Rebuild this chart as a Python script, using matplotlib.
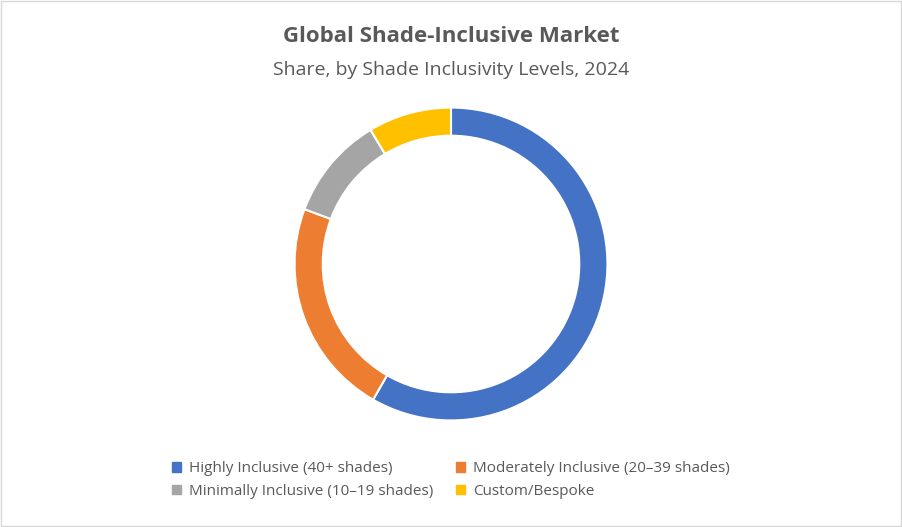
import matplotlib
matplotlib.use("Agg")
import matplotlib.pyplot as plt
from matplotlib.patches import Rectangle

categories = ["Highly Inclusive (40+ shades)", "Moderately Inclusive (20–39 shades)",
              "Minimally Inclusive (10–19 shades)", "Custom/Bespoke"]
values = [58.3, 22.4, 10.7, 8.6]
colors = ["#4472C4", "#ED7D31", "#A5A5A5", "#FFC000"]

plt.rcParams["font.family"] = "Open Sans"
fig = plt.figure(figsize=(9.02, 5.27), dpi=100)
fig.patches.append(Rectangle((0.001, 0.001), 0.998, 0.997, transform=fig.transFigure,
                             fill=False, edgecolor="#D9D9D9", lw=1))
ax = fig.add_axes([0.5 - 0.5 * 316 / 902, (527 - 422) / 527, 316 / 902, 316 / 527])
ax.pie(values, colors=colors, startangle=90, counterclock=False,
       wedgeprops=dict(width=0.18, edgecolor="white", linewidth=1.5))
ax.set_xlim(-1.01, 1.01)
ax.set_ylim(-1.01, 1.01)
ax.set_aspect("equal")
fig.text(0.5, 1 - 37 / 527, "Global Shade-Inclusive Market", ha="center", va="center",
         fontsize=16, fontweight="bold", color="#595959")
fig.text(0.5, 1 - 70 / 527, "Share, by Shade Inclusivity Levels, 2024", ha="center", va="center",
         fontsize=14, color="#595959")
handles = [Rectangle((0, 0), 1, 1, color=c) for c in colors]
order = [0, 2, 1, 3]
fig.legend([handles[i] for i in order], [categories[i] for i in order], loc="center",
           bbox_to_anchor=(0.5, 1 - 480 / 527), ncol=2,
           frameon=False, fontsize=11, handlelength=0.6, handleheight=0.6,
           columnspacing=1.5, labelcolor="#595959", handletextpad=0.5)
fig.savefig("out.png", dpi=100)
